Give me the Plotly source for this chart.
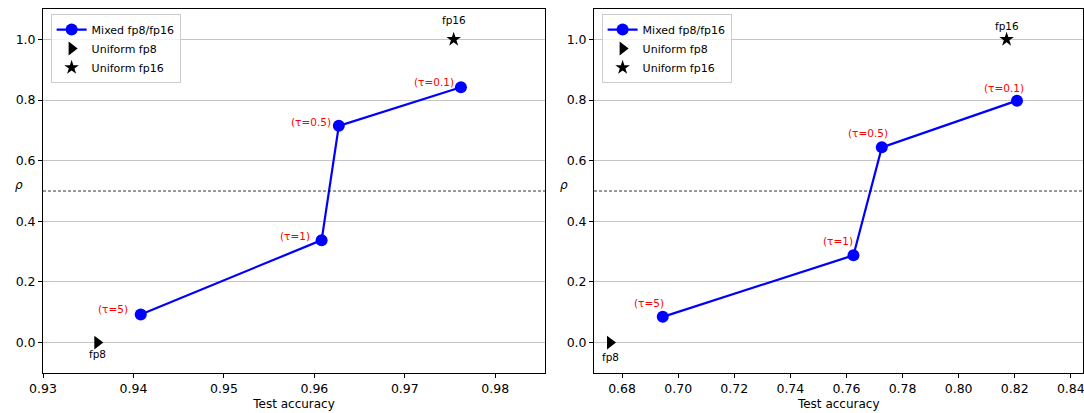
import plotly.graph_objects as go

# Left panel data
tau_labels = ["(τ=5)", "(τ=1)", "(τ=0.5)", "(τ=0.1)"]
left_acc = [0.9408, 0.9608, 0.9627, 0.9762]
left_rho = [0.093, 0.338, 0.715, 0.842]
left_fp8 = (0.9360, 0.0)
left_fp16 = (0.9754, 1.0)

# Right panel data
right_acc = [0.6945, 0.7625, 0.7726, 0.8208]
right_rho = [0.085, 0.288, 0.644, 0.798]
right_fp8 = (0.6757, 0.0)
right_fp16 = (0.8171, 1.0)

left_ticks = [0.93, 0.94, 0.95, 0.96, 0.97, 0.98]
right_ticks = [0.68, 0.70, 0.72, 0.74, 0.76, 0.78, 0.80, 0.82, 0.84]
y_ticks = [0.0, 0.2, 0.4, 0.6, 0.8, 1.0]

FONT = "DejaVu Sans"
fig = go.Figure()

panels = [
    ("x", "y", "legend", left_acc, left_rho, left_fp8, left_fp16,
     [(-28, 5), (-27, 4), (-28, 4), (-27, 5)], -11, 19),
    ("x2", "y2", "legend2", right_acc, right_rho, right_fp8, right_fp16,
     [(-14, 14), (-15, 14), (-14, 14), (-13, 13)], -14, 13),
]

for xa, ya, lg, acc, rho, fp8, fp16, offs, fp8dy, fp16dy in panels:
    fig.add_trace(go.Scatter(x=acc, y=rho, mode="lines+markers", name="Mixed fp8/fp16",
                             line=dict(color="blue", width=2.2),
                             marker=dict(size=12, color="blue"),
                             xaxis=xa, yaxis=ya, legend=lg))
    fig.add_trace(go.Scatter(x=[fp8[0]], y=[fp8[1]], mode="markers", name="Uniform fp8",
                             marker=dict(symbol="triangle-right", size=12, color="black"),
                             xaxis=xa, yaxis=ya, legend=lg))
    fig.add_trace(go.Scatter(x=[fp16[0]], y=[fp16[1]], mode="markers", name="Uniform fp16",
                             marker=dict(symbol="star", size=11, color="black"),
                             xaxis=xa, yaxis=ya, legend=lg))
    for lab, xv, yv, (dx, dy) in zip(tau_labels, acc, rho, offs):
        fig.add_annotation(x=xv, y=yv, xref=xa, yref=ya, text=lab, showarrow=False,
                           xshift=dx, yshift=dy, font=dict(family=FONT, size=10.5, color="red"))
    fig.add_annotation(x=fp8[0], y=fp8[1], xref=xa, yref=ya, text="fp8", showarrow=False,
                       yshift=fp8dy, font=dict(family=FONT, size=10.5, color="black"))
    fig.add_annotation(x=fp16[0], y=fp16[1], xref=xa, yref=ya, text="fp16", showarrow=False,
                       yshift=fp16dy, font=dict(family=FONT, size=10.5, color="black"))
    fig.add_shape(type="line", xref=xa + " domain", yref=ya, x0=0, x1=1, y0=0.5, y1=0.5,
                  line=dict(color="black", width=0.8, dash="3px,2px"))

axis_common = dict(showline=True, linecolor="black", linewidth=1, mirror=True,
                   ticks="outside", ticklen=4, tickcolor="black", automargin=False,
                   ticklabeloverflow="allow",
                   tickfont=dict(family=FONT, size=12.5, color="black"), zeroline=False)

fig.update_layout(
    width=1084, height=413,
    margin=dict(l=0, r=0, t=0, b=0),
    paper_bgcolor="white", plot_bgcolor="white",
    font=dict(family=FONT, color="black"),
    xaxis=dict(domain=[0.0397, 0.5028], range=[0.93, 0.9855], tickvals=left_ticks,
               ticktext=[f"{v:.2f}" for v in left_ticks], showgrid=False,
               title=dict(text="Test accuracy", font=dict(family=FONT, size=12), standoff=4),
               anchor="y", **axis_common),
    yaxis=dict(domain=[0.097, 0.978], range=[-0.1, 1.1], tickvals=y_ticks,
               ticktext=[f"{v:.1f}" for v in y_ticks], showgrid=True, gridcolor="#c4c4c4",
               gridwidth=1, anchor="x", **axis_common),
    xaxis2=dict(domain=[0.548, 0.9995], range=[0.67, 0.8445], tickvals=right_ticks,
                ticktext=[f"{v:.2f}" for v in right_ticks], showgrid=False,
                title=dict(text="Test accuracy", font=dict(family=FONT, size=12), standoff=4),
                anchor="y2", **axis_common),
    yaxis2=dict(domain=[0.097, 0.978], range=[-0.1, 1.1], tickvals=y_ticks,
                ticktext=[f"{v:.1f}" for v in y_ticks], showgrid=True, gridcolor="#c4c4c4",
                gridwidth=1, anchor="x2", **axis_common),
    legend=dict(x=0.0397 + 0.007, y=0.978 - 0.012, xanchor="left", yanchor="top",
                bgcolor="rgba(255,255,255,0.8)", bordercolor="#cccccc", borderwidth=1,
                font=dict(family=FONT, size=11), tracegroupgap=0, itemwidth=30),
    legend2=dict(x=0.548 + 0.007, y=0.978 - 0.012, xanchor="left", yanchor="top",
                 bgcolor="rgba(255,255,255,0.8)", bordercolor="#cccccc", borderwidth=1,
                 font=dict(family=FONT, size=11), tracegroupgap=0, itemwidth=30),
)

for xpos in [0.0397, 0.548]:
    fig.add_annotation(x=xpos - 30 / 1084, y=0.552, xref="paper", yref="paper", text="<i>ρ</i>",
                       showarrow=False, font=dict(family=FONT, size=12, color="black"))

fig.write_html("out.html", config={"displayModeBar": False},
               post_script="document.body.style.margin='0px';")
